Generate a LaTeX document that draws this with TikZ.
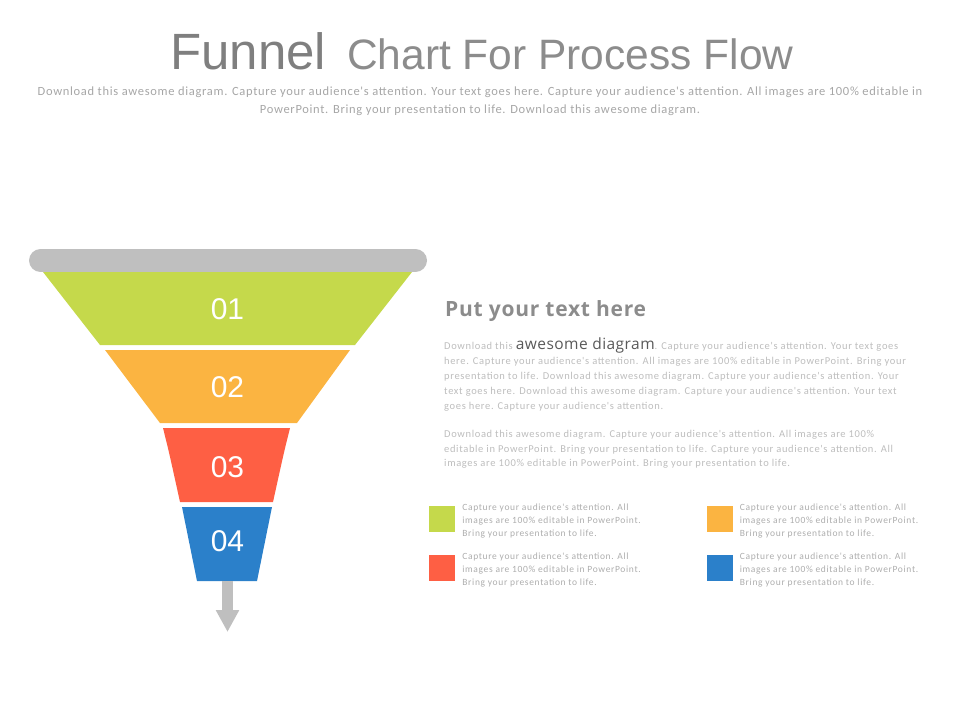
\documentclass[tikz,border=0pt]{standalone}
\usepackage{fontspec}
\setmainfont{Carlito}
\newfontfamily\arialfont{Liberation Sans}
\newfontfamily\opensfont{Open Sans}
\newfontfamily\bodyfont[LetterSpace=6.2]{Carlito}
\newfontfamily\legfont[LetterSpace=6.8]{Carlito}
\newfontfamily\subfont[LetterSpace=5.5]{Carlito}
\newfontfamily\headfont[LetterSpace=3.4]{Open Sans}
\newfontfamily\accentfont[LetterSpace=3]{Open Sans}
\usepackage{xcolor}
\usetikzlibrary{arrows.meta, positioning}

\definecolor{funnelgreen}{HTML}{C5D94B}
\definecolor{funnelorange}{HTML}{FBB441}
\definecolor{funnelred}{HTML}{FE5F44}
\definecolor{funnelblue}{HTML}{2B80CA}
\definecolor{bargray}{HTML}{BFBFBF}
\definecolor{titlegray}{HTML}{7F7F7F}
\definecolor{titlelight}{HTML}{8C8C8C}
\definecolor{subgray}{HTML}{A6A6A6}
\definecolor{bodygray}{HTML}{BDBDBD}
\definecolor{legendgray}{HTML}{ADADAD}
\definecolor{accentgray}{HTML}{595959}

\begin{document}
\begin{tikzpicture}[x=1pt, y=-1pt,
  numlabel/.style={text=white, inner sep=0pt, font=\arialfont\fontsize{30}{36}\selectfont},
  legbox/.style={minimum size=26pt, inner sep=0pt, draw=none},
  legtext/.style={inner sep=0pt, align=left, text=legendgray, font=\legfont\fontsize{9.5}{13}\selectfont},
  bodytext/.style={inner sep=0pt, align=left, text=bodygray, font=\bodyfont\fontsize{10.5}{14.5}\selectfont}]

    \useasboundingbox (0,0) rectangle (960,720);

    % title
    \node[anchor=base west, inner sep=0pt, text=titlegray, font=\arialfont\fontsize{51}{60}\selectfont] (funnel) at (170,69) {Funnel};
    \node[anchor=base west, inner sep=0pt, text=titlelight, font=\arialfont\fontsize{42.5}{50}\selectfont] (chart) at (347,69) {Chart For Process Flow};
    \node[align=center, inner sep=0pt, text=subgray, font=\subfont\fontsize{12.5}{18}\selectfont] (sub) at (480,101.5)
        {Download this awesome diagram. Capture your audience's attention. Your text goes here. Capture your audience's attention. All images are 100\% editable in\\
        PowerPoint. Bring your presentation to life. Download this awesome diagram.};

    % funnel
    \coordinate (barl) at (40.5,260.5);
    \coordinate (barr) at (415.5,260.5);
    \draw[bargray, line width=23pt, line cap=round] (barl) -- (barr);

    \fill[funnelgreen] (43,272) -- (412,272) -- (355,345) -- (100,345) -- cycle;
    \fill[funnelorange] (105,350) -- (350,350) -- (297,423) -- (160,423) -- cycle;
    \fill[funnelred] (163,428) -- (290,428) .. controls (284,452) .. (273,502) -- (180,502) .. controls (169,452) .. (163,428) -- cycle;
    \fill[funnelblue] (182,507) -- (272,507) -- (257,581) -- (197,581) -- cycle;

    \node[numlabel] (n1) at (227.5,309) {01};
    \node[numlabel] (n2) at (227.5,387.5) {02};
    \node[numlabel] (n3) at (227.5,467) {03};
    \node[numlabel] (n4) at (227.5,541.5) {04};

    \coordinate (arrtop) at (227.5,581);
    \coordinate (arrtip) at (227.5,632);
    \draw[bargray, line width=11pt, -{Triangle[length=22pt, width=22pt]}] (arrtop) -- (arrtip);

    % text block
    \node[anchor=base west, inner sep=0pt, text=titlelight, font=\headfont\bfseries\fontsize{21}{24}\selectfont] (head) at (445,316) {Put your text here};

    \node[bodytext, anchor=north west, font=\bodyfont\fontsize{10.5}{15}\selectfont] (para1) at (444,337.5)
        {Download this {\accentfont\color{accentgray}\fontsize{15.5}{15}\selectfont awesome diagram}. Capture your audience's attention. Your text goes\\
        here. Capture your audience's attention. All images are 100\% editable in PowerPoint. Bring your\\
        presentation to life. Download this awesome diagram. Capture your audience's attention. Your\\
        text goes here. Download this awesome diagram. Capture your audience's attention. Your text\\
        goes here. Capture your audience's attention.};
    \node[bodytext, anchor=north west] (para2) at (444,430.5)
        {Download this awesome diagram. Capture your audience's attention. All images are 100\%\\
        editable in PowerPoint. Bring your presentation to life. Capture your audience's attention. All\\
        images are 100\% editable in PowerPoint. Bring your presentation to life.};

    % legend
    \node[legbox, fill=funnelgreen] (lg1) at (442,519) {};
    \node[legbox, fill=funnelorange] (lg2) at (719.5,519) {};
    \node[legbox, fill=funnelred] (lg3) at (442,568) {};
    \node[legbox, fill=funnelblue] (lg4) at (719.5,568) {};

    \node[legtext, right=7pt of lg1, yshift=-2pt] (lt1) {Capture your audience's attention. All\\ images are 100\% editable in PowerPoint.\\ Bring your presentation to life.};
    \node[legtext, right=7pt of lg2, yshift=-2pt] (lt2) {Capture your audience's attention. All\\ images are 100\% editable in PowerPoint.\\ Bring your presentation to life.};
    \node[legtext, right=7pt of lg3, yshift=-2pt] (lt3) {Capture your audience's attention. All\\ images are 100\% editable in PowerPoint.\\ Bring your presentation to life.};
    \node[legtext, right=7pt of lg4, yshift=-2pt] (lt4) {Capture your audience's attention. All\\ images are 100\% editable in PowerPoint.\\ Bring your presentation to life.};

\end{tikzpicture}
\end{document}
